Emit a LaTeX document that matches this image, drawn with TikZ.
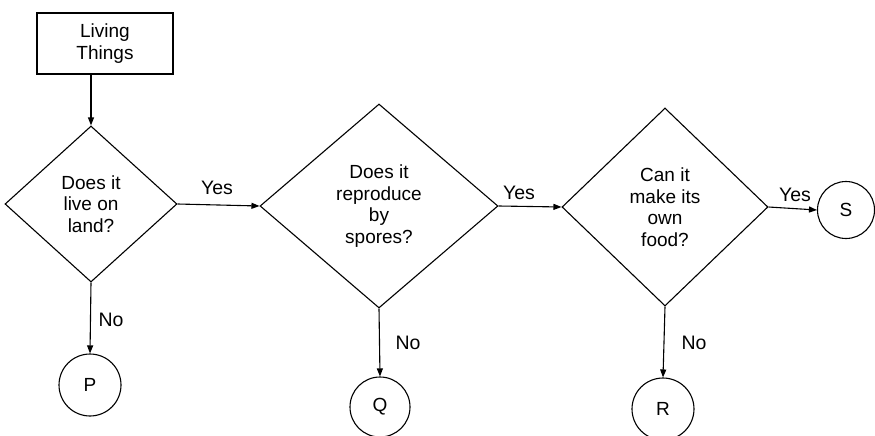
\documentclass[tikz,border=0pt]{standalone}
\usepackage{fontspec}
\setmainfont{Liberation Sans}
\usetikzlibrary{shapes.geometric,arrows.meta}
\tikzset{
  lbl/.style={font=\fontsize{19}{21.5}\selectfont, align=center, inner sep=0pt},
  startbox/.style={draw, rectangle, line width=1.1pt, minimum width=136pt, minimum height=61pt, inner sep=0pt, lbl},
  decision/.style={draw, diamond, line width=1.1pt, inner sep=0pt, lbl},
  endcircle/.style={draw, circle, line width=1.1pt, minimum size=62pt, inner sep=0pt, lbl},
  arr/.style={line width=1.1pt, -{Triangle[length=8pt,width=6pt]}},
  edgelbl/.style={font=\fontsize{19.5}{22}\selectfont, inner sep=0pt}
}
\begin{document}
\begin{tikzpicture}[x=1pt,y=-1pt]
\useasboundingbox (0,0) rectangle (875,436);
\fill[white] (0,0) rectangle (875,436);

\node[startbox] (lt) at (105,43.5) {Living\\Things};

\node[decision, minimum width=172pt, minimum height=156pt] (d1) at (91,204) {Does it\\live on\\land?};
\node[decision, minimum width=238pt, minimum height=204pt] (d2) at (379,206) {Does it\\reproduce\\by\\spores?};
\node[decision, minimum width=206pt, minimum height=198pt] (d3) at (665,207) {Can it\\make its\\own\\food?};

\node[endcircle] (P) at (90,385) {P};
\node[endcircle, minimum size=60pt] (Q) at (380,407) {Q};
\node[endcircle, minimum size=62pt] (R) at (663,409) {R};
\node[endcircle, minimum size=57pt] (S) at (846,210) {S};

\coordinate (ltout) at (lt.south -| d1.north);
\draw[arr] (ltout) -- (d1.north);

\draw[arr] (d1.east) -- (d2.west);
\draw[arr] (d2.east) -- (d3.west);
\draw[arr] (d3.east) -- (S.west);

\draw[arr] (d1.south) -- (P.north);
\draw[arr] (d2.south) -- (Q.north);
\draw[arr] (d3.south) -- (R.north);

\node[edgelbl] (y1) at (217,188) {Yes};
\node[edgelbl] (y2) at (519,193) {Yes};
\node[edgelbl] (y3) at (795,195) {Yes};

\node[edgelbl] (n1) at (111,320) {No};
\node[edgelbl] (n2) at (408,343) {No};
\node[edgelbl] (n3) at (694,343) {No};
\end{tikzpicture}
\end{document}
